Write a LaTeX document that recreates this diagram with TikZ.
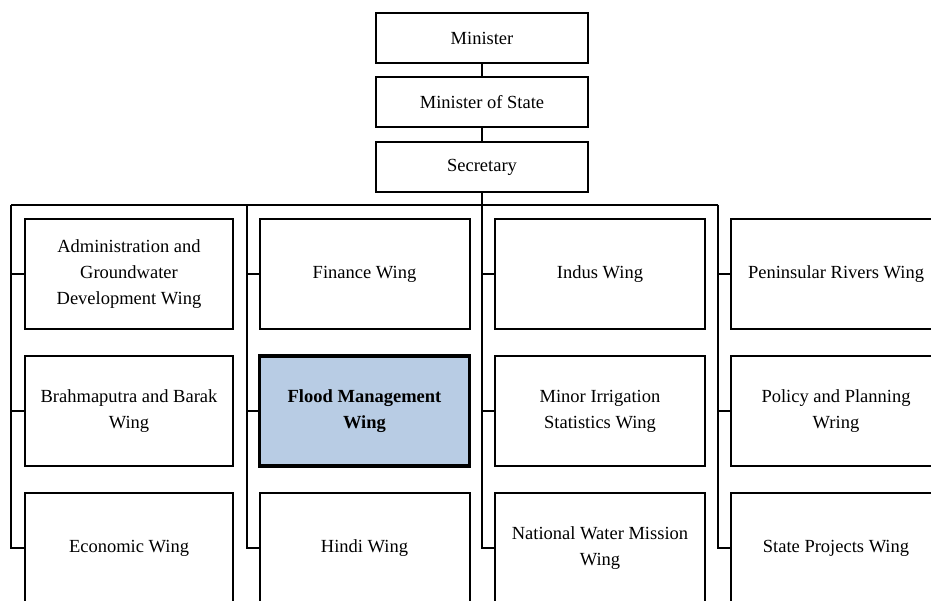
\documentclass[tikz,border=0pt]{standalone}
\usepackage{fontspec}
\setmainfont{Liberation Serif}
\definecolor{floodblue}{RGB}{184,204,228}
\tikzset{
  post/.style={draw, line width=2pt, minimum height=50pt, minimum width=212pt, inner sep=0pt, align=center, font=\fontsize{18.5}{26}\selectfont},
  wing/.style={post, minimum height=110pt, minimum width=210pt},
  link/.style={line width=2pt}
}
\begin{document}
\begin{tikzpicture}[x=1pt,y=-1pt]
\useasboundingbox (0,0) rectangle (931,601);
\clip (0,0) rectangle (931,601);

% top posts
\node[post] (minister) at (482,38) {Minister};
\node[post] (mos) at (482,102) {Minister of State};
\node[post] (sec) at (482,167) {Secretary};
\draw[link] (minister) -- (mos);
\draw[link] (mos) -- (sec);

% bus line
\coordinate (bus1) at (11,205);
\coordinate (bus2) at (247,205);
\coordinate (bus3) at (482,205);
\coordinate (bus4) at (718,205);
\draw[link] (sec) -- (bus3);
\draw[link] (bus1) -- (bus4);

% wings, first column
\node[wing, minimum width=208pt] (adm) at (129,274) {Administration and\\Groundwater\\Development Wing};
\node[wing, minimum width=208pt] (bra) at (129,411) {Brahmaputra and Barak\\Wing};
\node[wing, minimum width=208pt] (eco) at (129,548) {Economic Wing};
% second column
\node[wing] (fin) at (364.5,274) {Finance Wing};
\node[wing, fill=floodblue, line width=3.5pt, font=\fontsize{18.5}{26}\selectfont\bfseries] (flood) at (364.5,411) {Flood Management\\Wing};
\node[wing] (hin) at (364.5,548) {Hindi Wing};
% third column
\node[wing] (ind) at (600,274) {Indus Wing};
\node[wing] (mir) at (600,411) {Minor Irrigation\\Statistics Wing};
\node[wing] (nwm) at (600,548) {National Water Mission\\Wing};
% fourth column
\node[wing] (pen) at (836,274) {Peninsular Rivers Wing};
\node[wing] (pol) at (836,411) {Policy and Planning\\Wring};
\node[wing] (spw) at (836,548) {State Projects Wing};

% connectors
\foreach \b/\w in {bus1/adm,bus1/bra,bus1/eco,bus2/fin,bus2/flood,bus2/hin,bus3/ind,bus3/mir,bus3/nwm,bus4/pen,bus4/pol,bus4/spw}
  \draw[link] (\b) |- (\w.west);

\end{tikzpicture}
\end{document}
